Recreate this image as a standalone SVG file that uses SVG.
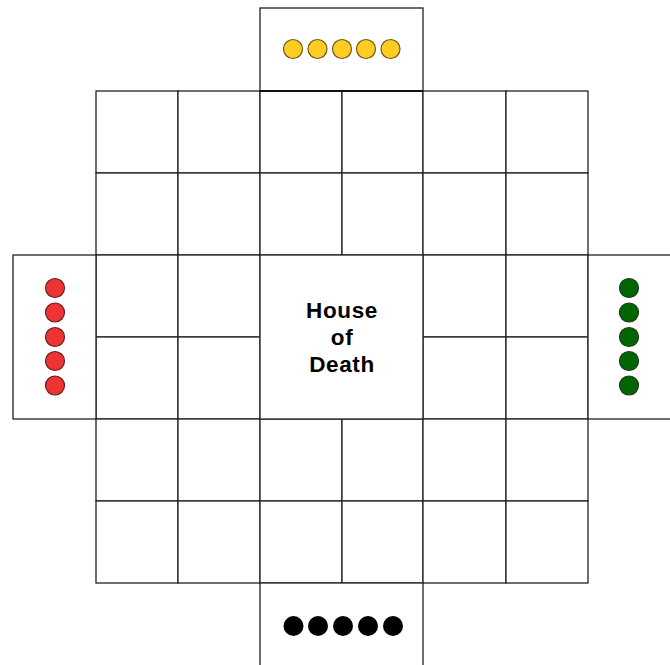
<svg xmlns="http://www.w3.org/2000/svg" width="670" height="665" viewBox="0 0 670 665">
<style>
.c{fill:#fff;stroke:#222;stroke-width:1.3}
.y{fill:#FFCC22;stroke:#6b5a1a;stroke-width:1.2}
.r{fill:#EE3333;stroke:#6b2020;stroke-width:1.2}
.g{fill:#006600;stroke:#1f3a1f;stroke-width:1.2}
.k{fill:#000}
.t{font-family:"Liberation Sans",Arial,sans-serif;font-weight:bold;font-size:22.5px;letter-spacing:0.6px;fill:#000;text-anchor:middle}
</style>
<rect width="670" height="665" fill="#fff"/>
<g id="cells">
<g id="r1c1"><rect class="c" x="96" y="91" width="82" height="82"/></g>
<g id="r1c2"><rect class="c" x="178" y="91" width="82" height="82"/></g>
<g id="r1c3"><rect class="c" x="260" y="91" width="82" height="82"/></g>
<g id="r1c4"><rect class="c" x="342" y="91" width="81" height="82"/></g>
<g id="r1c5"><rect class="c" x="423" y="91" width="83" height="82"/></g>
<g id="r1c6"><rect class="c" x="506" y="91" width="82" height="82"/></g>
<g id="r2c1"><rect class="c" x="96" y="173" width="82" height="82"/></g>
<g id="r2c2"><rect class="c" x="178" y="173" width="82" height="82"/></g>
<g id="r2c3"><rect class="c" x="260" y="173" width="82" height="82"/></g>
<g id="r2c4"><rect class="c" x="342" y="173" width="81" height="82"/></g>
<g id="r2c5"><rect class="c" x="423" y="173" width="83" height="82"/></g>
<g id="r2c6"><rect class="c" x="506" y="173" width="82" height="82"/></g>
<g id="r3c1"><rect class="c" x="96" y="255" width="82" height="82"/></g>
<g id="r3c2"><rect class="c" x="178" y="255" width="82" height="82"/></g>
<g id="r3c5"><rect class="c" x="423" y="255" width="83" height="82"/></g>
<g id="r3c6"><rect class="c" x="506" y="255" width="82" height="82"/></g>
<g id="r4c1"><rect class="c" x="96" y="337" width="82" height="82"/></g>
<g id="r4c2"><rect class="c" x="178" y="337" width="82" height="82"/></g>
<g id="r4c5"><rect class="c" x="423" y="337" width="83" height="82"/></g>
<g id="r4c6"><rect class="c" x="506" y="337" width="82" height="82"/></g>
<g id="r5c1"><rect class="c" x="96" y="419" width="82" height="82"/></g>
<g id="r5c2"><rect class="c" x="178" y="419" width="82" height="82"/></g>
<g id="r5c3"><rect class="c" x="260" y="419" width="82" height="82"/></g>
<g id="r5c4"><rect class="c" x="342" y="419" width="81" height="82"/></g>
<g id="r5c5"><rect class="c" x="423" y="419" width="83" height="82"/></g>
<g id="r5c6"><rect class="c" x="506" y="419" width="82" height="82"/></g>
<g id="r6c1"><rect class="c" x="96" y="501" width="82" height="82"/></g>
<g id="r6c2"><rect class="c" x="178" y="501" width="82" height="82"/></g>
<g id="r6c3"><rect class="c" x="260" y="501" width="82" height="82"/></g>
<g id="r6c4"><rect class="c" x="342" y="501" width="81" height="82"/></g>
<g id="r6c5"><rect class="c" x="423" y="501" width="83" height="82"/></g>
<g id="r6c6"><rect class="c" x="506" y="501" width="82" height="82"/></g>
</g>
<g id="house-of-death">
<rect class="c" x="260" y="255" width="163" height="164"/>
<text class="t" x="342" y="318">House</text>
<text class="t" x="342" y="345">of</text>
<text class="t" x="342" y="372">Death</text>
</g>
<g id="home-yellow">
<rect class="c" x="260" y="8" width="163" height="83"/>
<line x1="260" y1="91" x2="423" y2="91" stroke="#111" stroke-width="2"/>
<circle class="y" cx="293" cy="49" r="9.5"/>
<circle class="y" cx="317.5" cy="49" r="9.5"/>
<circle class="y" cx="342" cy="49" r="9.5"/>
<circle class="y" cx="366" cy="49" r="9.5"/>
<circle class="y" cx="390.5" cy="49" r="9.5"/>
</g>
<g id="home-red">
<rect class="c" x="13" y="255" width="83" height="164"/>
<circle class="r" cx="55" cy="288" r="9.5"/>
<circle class="r" cx="55" cy="312.5" r="9.5"/>
<circle class="r" cx="55" cy="337" r="9.5"/>
<circle class="r" cx="55" cy="361" r="9.5"/>
<circle class="r" cx="55" cy="385.5" r="9.5"/>
</g>
<g id="home-green">
<rect class="c" x="588" y="255" width="84" height="164"/>
<circle class="g" cx="629" cy="288" r="9.5"/>
<circle class="g" cx="629" cy="312.5" r="9.5"/>
<circle class="g" cx="629" cy="337" r="9.5"/>
<circle class="g" cx="629" cy="361" r="9.5"/>
<circle class="g" cx="629" cy="385.5" r="9.5"/>
</g>
<g id="home-black">
<rect class="c" x="260" y="583" width="163" height="84"/>
<circle class="k" cx="293.5" cy="626" r="10"/>
<circle class="k" cx="318" cy="626" r="10"/>
<circle class="k" cx="343" cy="626" r="10"/>
<circle class="k" cx="368" cy="626" r="10"/>
<circle class="k" cx="393" cy="626" r="10"/>
</g>
<g id="connectors"></g>
</svg>
